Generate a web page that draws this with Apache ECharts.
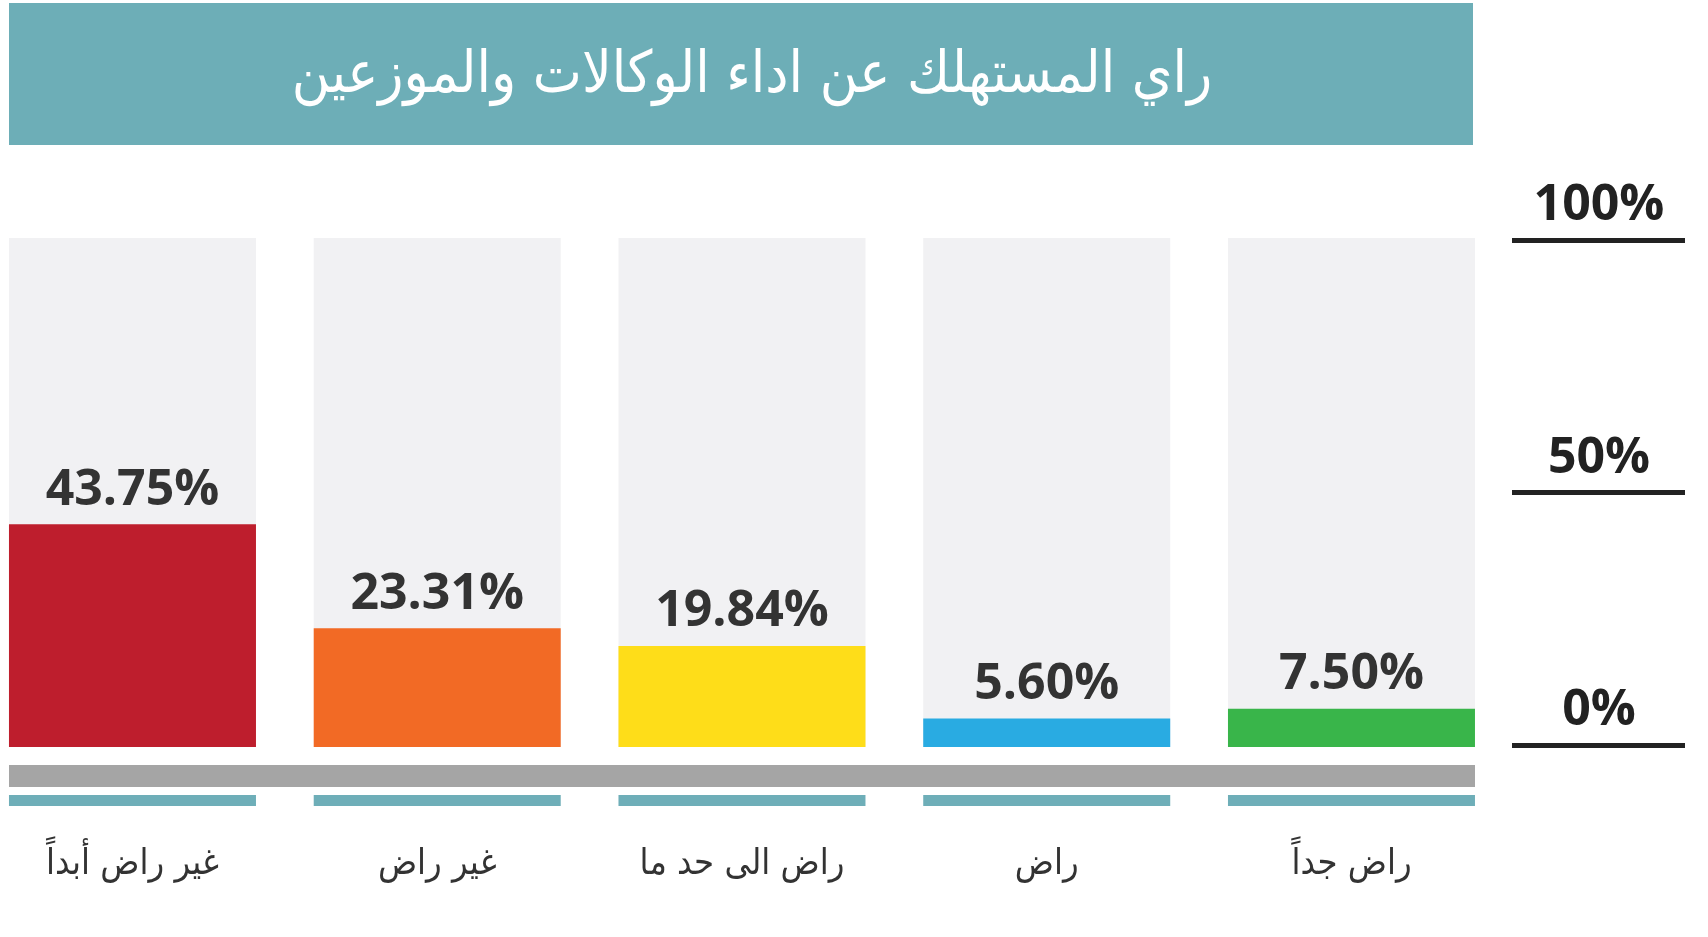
<!DOCTYPE html>
<html>
<head>
<meta charset="utf-8">
<script src="https://cdn.jsdelivr.net/npm/echarts@6/dist/echarts.min.js"></script>
<style>
html,body{margin:0;padding:0;background:#ffffff;}
#chart{width:1708px;height:937px;}
</style>
</head>
<body>
<div id="chart"></div>
<script>
const titleText = 'راي المستهلك عن اداء الوكالات والموزعين';
const categories = ['غير راض أبداً', 'غير راض', 'راض الى حد ما', 'راض', 'راض جداً'];
const values = [43.75, 23.31, 19.84, 5.60, 7.50];
const barColors = ['#be1e2d', '#f26a25', '#fedd19', '#29abe2', '#39b54a'];
const tickLabels = {0: '0%', 50: '50%', 100: '100%'};

const arabicFont = "'DejaVu Sans Condensed', 'DejaVu Sans', sans-serif";
const latinFont = "'Open Sans', 'Noto Sans', sans-serif";

const chart = echarts.init(document.getElementById('chart'));
chart.setOption({
  backgroundColor: '#ffffff',
  animation: false,
  graphic: [
    { type: 'rect', shape: { x: 9, y: 3, width: 1464, height: 142 }, style: { fill: '#6daeb7' }, z: 0 },
    { type: 'rect', shape: { x: 9, y: 765, width: 1466, height: 22 }, style: { fill: '#a5a5a5' }, z: 0 },
    { type: 'text', x: 752, y: 77, z: 5,
      style: { text: titleText, fill: '#ffffff', font: "58px " + arabicFont, textAlign: 'center', textVerticalAlign: 'middle' } }
  ],
  grid: [
    { left: -19.9, width: 1523.75, top: 238, bottom: 190, outerBoundsMode: 'none', containLabel: false },
    { left: 1512, width: 173, top: 240, bottom: 192, outerBoundsMode: 'none', containLabel: false }
  ],
  xAxis: [
    {
      type: 'category', gridIndex: 0, data: categories,
      axisLine: { show: false }, axisTick: { show: false },
      axisLabel: {
        margin: 48,
        interval: 0,
        formatter: function (v) { return '{bar|}\n{sp|}\n{txt|' + v + '}'; },
        rich: {
          bar: { width: 247, height: 11, lineHeight: 11, backgroundColor: '#6eaeb8' },
          sp: { height: 38, lineHeight: 38 },
          txt: { fontSize: 36, lineHeight: 42, color: '#333333', fontFamily: arabicFont, align: 'center' }
        }
      }
    },
    { type: 'value', gridIndex: 1, show: false, min: 0, max: 1 }
  ],
  yAxis: [
    { type: 'value', gridIndex: 0, min: 0, max: 100, show: false },
    {
      type: 'value', gridIndex: 1, min: 0, max: 100, interval: 50,
      axisLine: { show: false }, axisTick: { show: false },
      splitLine: { show: true, lineStyle: { color: '#222222', width: 5 } },
      axisLabel: {
        inside: true, align: 'center', margin: 87, verticalAlign: 'bottom',
        padding: [0, 0, 9, 0],
        fontSize: 50, fontWeight: 'bold', color: '#222222', fontFamily: latinFont,
        formatter: function (v) { return tickLabels[v] !== undefined ? tickLabels[v] : ''; }
      }
    }
  ],
  series: [
    {
      type: 'bar', xAxisIndex: 0, yAxisIndex: 0,
      barWidth: 247,
      data: values.map(function (v, i) { return { value: v, itemStyle: { color: barColors[i] } }; }),
      showBackground: true,
      backgroundStyle: { color: '#f1f1f3' },
      label: {
        show: true, position: 'top', distance: 9,
        fontSize: 50, fontWeight: 'bold', color: '#333333', fontFamily: latinFont,
        formatter: function (p) { return p.value.toFixed(2) + '%'; }
      }
    }
  ]
});
</script>
</body>
</html>
